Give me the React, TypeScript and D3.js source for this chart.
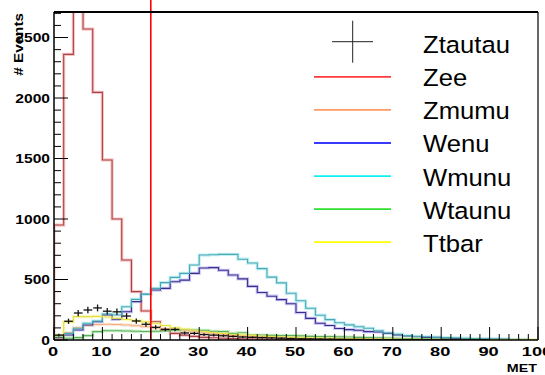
import React from "react";
import * as d3 from "d3";

// MET histograms, 50 bins of width 2 from 0 to 100
const binWidth = 2;
const xTicks = [0, 10, 20, 30, 40, 50, 60, 70, 80, 90, 100];
const yTicks = [0, 500, 1000, 1500, 2000, 2500];

const ztautau = [40, 155, 223, 248, 265, 238, 233, 198, 157, 130, 105, 88, 88, 58, 55, 45, 40, 35, 30, 25, 22, 20, 17, 15, 12, 10, 9, 8, 7, 6, 5, 5, 4, 4, 3, 3, 2, 2, 2, 1, 1, 1, 1, 1, 1, 0, 0, 0, 0, 0];
const zee = [950, 2361, 3200, 2570, 2047, 1488, 1000, 661, 400, 240, 151, 80, 55, 40, 30, 22, 18, 14, 12, 10, 8, 7, 6, 5, 4, 4, 3, 3, 2, 2, 2, 1, 1, 1, 1, 1, 0, 0, 0, 0, 0, 0, 0, 0, 0, 0, 0, 0, 0, 0];
const zmumu = [10, 60, 100, 120, 128, 130, 128, 124, 118, 110, 100, 92, 84, 75, 68, 60, 52, 45, 40, 35, 30, 26, 22, 19, 16, 14, 12, 10, 9, 8, 7, 6, 5, 4, 4, 3, 3, 2, 2, 2, 1, 1, 1, 1, 1, 1, 0, 0, 0, 0];
const wenu = [20, 41, 83, 124, 151, 207, 171, 234, 317, 377, 413, 427, 482, 495, 551, 595, 598, 576, 537, 505, 443, 392, 362, 334, 300, 227, 179, 138, 120, 95, 86, 80, 69, 66, 55, 42, 33, 27, 22, 18, 15, 12, 10, 8, 7, 6, 5, 4, 3, 2];
const wmunu = [40, 55, 97, 138, 157, 215, 207, 275, 336, 377, 427, 474, 518, 551, 620, 702, 705, 708, 708, 668, 636, 590, 520, 472, 386, 324, 262, 205, 168, 142, 125, 110, 97, 77, 58, 48, 36, 30, 27, 24, 20, 18, 15, 12, 10, 9, 7, 6, 5, 4];
const wtaunu = [25, 15, 20, 36, 69, 77, 77, 75, 72, 70, 72, 75, 80, 85, 83, 80, 72, 69, 55, 60, 41, 41, 38, 36, 36, 34, 30, 28, 28, 26, 25, 22, 20, 18, 16, 14, 12, 10, 9, 8, 7, 6, 5, 5, 4, 4, 3, 3, 2, 2];
const ttbar = [40, 150, 193, 193, 195, 190, 180, 170, 160, 150, 138, 120, 100, 90, 80, 70, 62, 55, 48, 42, 38, 33, 30, 27, 24, 21, 19, 17, 15, 13, 12, 10, 9, 8, 7, 6, 5, 5, 4, 4, 3, 3, 2, 2, 2, 1, 1, 1, 1, 1];

const cutValue = 20;

const lineSeries = [
  { name: "Zee", values: zee, core: "#a84448", halo: "#f8c4c4", legend: "#ff3a3a" },
  { name: "Zmumu", values: zmumu, core: "#f2b080", halo: "#fde4d4", legend: "#ff9a66" },
  { name: "Wenu", values: wenu, core: "#3c2e8c", halo: "#cccaf4", legend: "#3a3aff" },
  { name: "Wmunu", values: wmunu, core: "#4aa8b4", halo: "#c4f0f4", legend: "#10f0f0" },
  { name: "Wtaunu", values: wtaunu, core: "#5ab05a", halo: "#cdf0cd", legend: "#30e030" },
  { name: "Ttbar", values: ttbar, core: "#e6e048", halo: "#fafac4", legend: "#ffff00" },
];

const W = 545;
const H = 375;
const frame = { left: 54, right: 538, top: 12, bottom: 340 };
const font = "'Liberation Sans', Arial, Helvetica, sans-serif";

// Text drawn with a horizontal stretch around its anchor point
function WideText(props: {
  x: number;
  y: number;
  sx: number;
  anchor?: "start" | "middle" | "end";
  rotate?: number;
  size?: number;
  children: React.ReactNode;
}) {
  const { x, y, sx, anchor = "start", rotate = 0, size, children } = props;
  return (
    <text
      transform={`translate(${x},${y}) rotate(${rotate}) scale(${sx},1)`}
      textAnchor={anchor}
      fontSize={size}
    >
      {children}
    </text>
  );
}

export default function App() {
  const x = d3.scaleLinear().domain([0, 100]).range([frame.left, frame.right]);
  const y = d3.scaleLinear().domain([0, 2711]).range([frame.bottom, frame.top]);

  const stepPath = (values: number[]) => {
    const pts: [number, number][] = [[0, 0]];
    values.forEach((v, i) => {
      pts.push([i * binWidth, v]);
      pts.push([(i + 1) * binWidth, v]);
    });
    pts.push([values.length * binWidth, 0]);
    return d3.line<[number, number]>().x((d) => x(d[0])).y((d) => y(d[1]))(pts) ?? "";
  };

  const yMinor = d3.range(0, 2800, 100).filter((v) => y(v) >= frame.top);
  const xMinor = d3.range(0, 101, 2);

  const legendX = 423;
  const rowStep = 33.06;
  const firstBaseline = 53.3;

  return (
    <svg
      width={W}
      height={H}
      style={{ position: "absolute", left: 0, top: 0, background: "#fff" }}
    >
      <defs>
        <clipPath id="plotArea">
          <rect x={frame.left} y={frame.top} width={frame.right - frame.left} height={frame.bottom - frame.top} />
        </clipPath>
      </defs>
      <rect width={W} height={H} fill="#fff" />

      <g clipPath="url(#plotArea)" fill="none">
        {lineSeries.map((s) => (
          <path key={s.name + "-halo"} d={stepPath(s.values)} stroke={s.halo} strokeWidth={3.2} />
        ))}
        {lineSeries.map((s) => (
          <path key={s.name} d={stepPath(s.values)} stroke={s.core} strokeWidth={1.1} />
        ))}
        {/* Ztautau as points with error bars */}
        {ztautau.map((v, i) => {
          if (v <= 0) return null;
          const err = Math.sqrt(3 * v);
          const cx = x((i + 0.5) * binWidth);
          return (
            <g key={"zt" + i} stroke="#111" strokeWidth={1.3}>
              <line x1={x(i * binWidth) + 0.5} x2={x((i + 1) * binWidth) - 0.5} y1={y(v)} y2={y(v)} />
              <line x1={cx} x2={cx} y1={y(v - err)} y2={y(v + err)} />
            </g>
          );
        })}
      </g>

      {/* cut line */}
      <line x1={x(cutValue)} x2={x(cutValue)} y1={0} y2={y(0)} stroke="#ff0000" strokeWidth={1.6} />

      {/* frame */}
      <line x1={frame.left} x2={frame.right} y1={frame.top} y2={frame.top} stroke="#000" strokeWidth={2} />
      <line x1={frame.right} x2={frame.right} y1={frame.top} y2={frame.bottom} stroke="#000" strokeWidth={1.2} />
      <line x1={frame.left} x2={frame.left} y1={frame.top} y2={frame.bottom} stroke="#000" strokeWidth={1.5} />
      <line x1={frame.left} x2={frame.right} y1={frame.bottom} y2={frame.bottom} stroke="#000" strokeWidth={1.5} />

      {/* axis ticks */}
      {yMinor.map((v) => (
        <line
          key={"ym" + v}
          x1={frame.left}
          x2={frame.left + (v % 500 === 0 ? 14 : 7)}
          y1={y(v)}
          y2={y(v)}
          stroke="#000"
          strokeWidth={1}
        />
      ))}
      {xMinor.map((v) => (
        <line
          key={"xm" + v}
          x1={x(v)}
          x2={x(v)}
          y1={frame.bottom}
          y2={frame.bottom - (v % 10 === 0 ? 13 : 6)}
          stroke="#000"
          strokeWidth={1}
        />
      ))}

      <g fontFamily={font} fontWeight="bold" fontSize={13} fill="#000">
        {yTicks.map((v) => (
          <WideText key={"yl" + v} x={50} y={y(v) + 4.6} sx={1.2} anchor="end">
            {v}
          </WideText>
        ))}
        {xTicks.map((v) => (
          <WideText key={"xl" + v} x={x(v) - 1} y={355.5} sx={1.4} anchor="middle">
            {v}
          </WideText>
        ))}
        <WideText x={537} y={372} sx={1.3} anchor="end" size={11}>
          MET
        </WideText>
        <WideText x={23} y={13} sx={1.22} anchor="end" rotate={-90} size={12.5}>
          # Events
        </WideText>
      </g>

      {/* legend */}
      <g fontFamily={font} fontSize={23.3} fill="#000">
        <line x1={332} x2={373} y1={41.7} y2={41.7} stroke="#222" strokeWidth={1} />
        <line x1={352.7} x2={352.7} y1={20.7} y2={62.7} stroke="#222" strokeWidth={1} />
        <WideText x={legendX} y={firstBaseline} sx={1.1}>Ztautau</WideText>
        {lineSeries.map((s, i) => {
          const base = firstBaseline + rowStep * (i + 1);
          return (
            <g key={"lg" + s.name}>
              <line x1={314} x2={391} y1={base - 9.5} y2={base - 9.5} stroke={s.legend} strokeWidth={1.8} />
              <WideText x={legendX} y={base} sx={1.1}>{s.name}</WideText>
            </g>
          );
        })}
      </g>
    </svg>
  );
}
